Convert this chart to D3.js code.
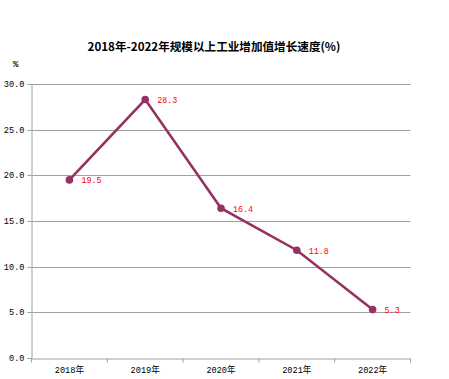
<!DOCTYPE html>
<html><head><meta charset="utf-8">
<script src="https://cdn.jsdelivr.net/npm/d3@7"></script>
<style>body{margin:0;background:#fff}svg{display:block}</style>
</head><body>
<script>
const categories = ["2018年","2019年","2020年","2021年","2022年"];
const values = [19.5, 28.3, 16.4, 11.8, 5.3];
const yTicks = [0, 5, 10, 15, 20, 25, 30];
const title = "2018年-2022年规模以上工业增加值增长速度(%)";

const W = 449, H = 379;
const m = {left: 31.5, right: 38.5, top: 84, bottom: 21};
const svg = d3.select("body").append("svg").attr("width", W).attr("height", H);
const x = d3.scaleBand().domain(categories).range([m.left, W - m.right]);
const y = d3.scaleLinear().domain([0, 30]).range([H - m.bottom, m.top]);
const font = "'Liberation Mono','DejaVu Sans Mono','Noto Sans CJK SC',monospace";

svg.append("text").attr("x", 214).attr("y", 51).attr("text-anchor", "middle")
  .attr("font-family", "'Noto Sans CJK SC',sans-serif").attr("font-weight", "bold")
  .attr("font-size", 11.6).attr("fill", "#000").text(title);
svg.append("text").attr("x", 13).attr("y", 67).attr("font-family", font)
  .attr("font-size", 9).attr("font-weight","bold").text("%");

// gridlines
svg.append("g").selectAll("line").data(yTicks.filter(d => d > 0)).join("line")
  .attr("x1", m.left).attr("x2", W - m.right)
  .attr("y1", d => Math.round(y(d)) + 0.5).attr("y2", d => Math.round(y(d)) + 0.5)
  .attr("stroke", "#a0a0a0").attr("stroke-width", 1);

const ya = svg.append("g").attr("transform", `translate(${m.left},0)`)
  .call(d3.axisLeft(y).tickValues(yTicks).tickSize(4).tickPadding(3).tickFormat(d3.format(".1f")));
ya.select(".domain").attr("stroke", "#a0a0a0");
ya.selectAll(".tick line").attr("stroke", "#a0a0a0");
ya.selectAll(".tick").attr("transform", d => `translate(0,${Math.round(y(d)) + 0.5})`);
ya.selectAll("text").attr("font-family", font).attr("font-size", 8.6).attr("fill", "#000");

const xa = svg.append("g").attr("transform", `translate(0,${Math.round(y(0)) + 0.5})`)
  .call(d3.axisBottom(x).tickSize(0).tickPadding(8));
xa.select(".domain").attr("stroke", "#a0a0a0");
xa.selectAll("text").attr("font-family", font).attr("font-size", 8.6).attr("fill", "#000");
// band boundary ticks
xa.append("g").selectAll("line").data(categories).join("line")
  .attr("x1", d => x(d) + x.bandwidth()).attr("x2", d => x(d) + x.bandwidth())
  .attr("y1", 0).attr("y2", 4).attr("stroke", "#a0a0a0");
xa.append("line").attr("x1", m.left).attr("x2", m.left).attr("y1", 0).attr("y2", 4).attr("stroke", "#a0a0a0");

const cx = d => x(d) + x.bandwidth() / 2;
const color = "#953163";
svg.append("path").datum(values)
  .attr("d", d3.line().x((d, i) => cx(categories[i])).y(d => y(d)))
  .attr("fill", "none").attr("stroke", color).attr("stroke-width", 2.6);
svg.append("g").selectAll("circle").data(values).join("circle")
  .attr("cx", (d, i) => cx(categories[i])).attr("cy", d => y(d)).attr("r", 3.8).attr("fill", color);
svg.append("g").selectAll("text").data(values).join("text")
  .attr("x", (d, i) => cx(categories[i]) + 12).attr("y", d => y(d) + 3.5)
  .attr("font-family", font).attr("font-size", 8.4).attr("fill", "#ff0000")
  .text(d => d.toFixed(1));
</script>
</body></html>
